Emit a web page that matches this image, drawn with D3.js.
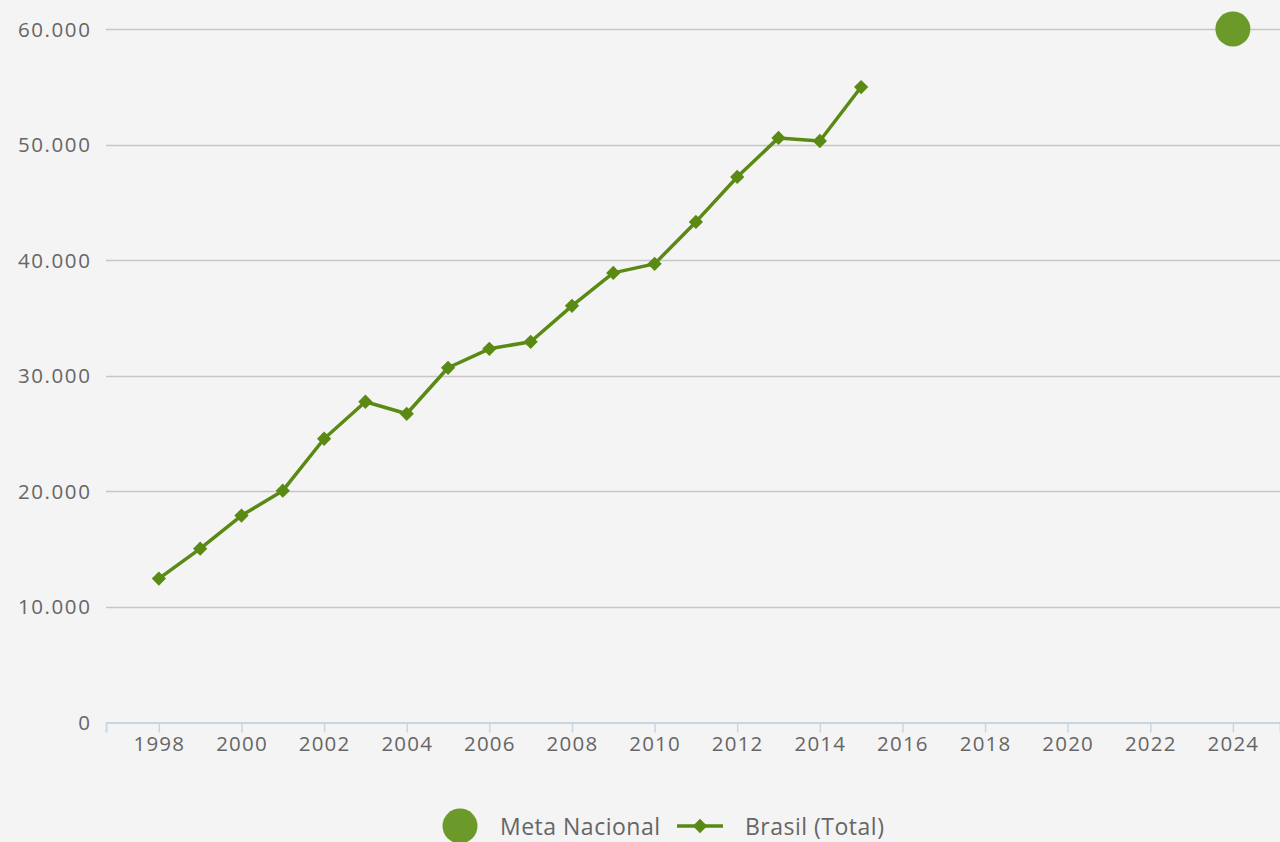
<!DOCTYPE html>
<html>
<head>
<meta charset="utf-8">
<script src="https://cdn.jsdelivr.net/npm/d3@7"></script>
<style>
  html, body { margin: 0; padding: 0; background: #f4f4f4; }
  svg { display: block; }
  text { font-family: "Open Sans", "Noto Sans", sans-serif; fill: #666; }
</style>
</head>
<body>
<svg id="chart" width="1280" height="842"></svg>
<script>
// Brasil (Total) series, one value per year
const years = [1998, 1999, 2000, 2001, 2002, 2003, 2004, 2005, 2006, 2007, 2008,
               2009, 2010, 2011, 2012, 2013, 2014, 2015];
const brasilTotal = [12450, 15040, 17900, 20060, 24550, 27750, 26710, 30690, 32330,
                     32940, 36050, 38900, 39680, 43310, 47200, 50580, 50310, 54980];

// National target
const metaYears = [2024];
const metaValues = [60000];

// Axis ticks
const xTicks = [1998, 2000, 2002, 2004, 2006, 2008, 2010, 2012, 2014, 2016, 2018, 2020, 2022, 2024];
const yTicks = [0, 10000, 20000, 30000, 40000, 50000, 60000];

const lineColor = "#5a8a14";
const metaColor = "#6b9a2a";

const svg = d3.select("#chart");
const plotLeft = 106, plotRight = 1280, plotTop = 29, plotBottom = 722.5;

const x = d3.scaleLinear().domain([1996.72, 2025.14]).range([plotLeft, plotRight]);
const y = d3.scaleLinear().domain([0, 60000]).range([plotBottom, plotTop]);

const fmt = v => v === 0 ? "0" : d3.format(",")(v).replace(/,/g, ".");

// Horizontal grid lines
svg.append("g").selectAll("line")
  .data(yTicks.filter(d => d > 0))
  .join("line")
  .attr("x1", plotLeft).attr("x2", plotRight)
  .attr("y1", d => Math.round(y(d)) + 0.5).attr("y2", d => Math.round(y(d)) + 0.5)
  .attr("stroke", "#c6c6c6").attr("stroke-width", 1.5);

// Y axis labels
svg.append("g").selectAll("text")
  .data(yTicks)
  .join("text")
  .attr("x", 91.5).attr("y", d => y(d) + 7.5)
  .attr("text-anchor", "end")
  .attr("font-size", 20.5)
  .attr("letter-spacing", 1.6)
  .text(fmt);

// X axis line and ticks
const xAxis = svg.append("g").attr("transform", `translate(0,${plotBottom})`);
xAxis.call(d3.axisBottom(x).tickValues(xTicks).tickSize(10).tickFormat(d3.format("d")));
xAxis.select(".domain").attr("stroke", "#c8d6e4").attr("stroke-width", 2);
xAxis.selectAll(".tick line").attr("stroke", "#c8d6e4").attr("stroke-width", 1.5);
xAxis.selectAll(".tick text")
  .attr("y", 28.5).attr("dy", null)
  .attr("fill", "#666").attr("font-size", 20.5)
  .attr("letter-spacing", 1.2)
  .attr("font-family", "\"Open Sans\", \"Noto Sans\", sans-serif");

// Brasil (Total) line
const data = years.map((yr, i) => ({ year: yr, value: brasilTotal[i] }));
svg.append("path")
  .datum(data)
  .attr("fill", "none")
  .attr("stroke", lineColor)
  .attr("stroke-width", 3.5)
  .attr("stroke-linejoin", "round")
  .attr("d", d3.line().x(d => x(d.year)).y(d => y(d.value)));

// Diamond markers
const diamond = d3.symbol().type(d3.symbolDiamond2).size(130);
svg.append("g").selectAll("path")
  .data(data)
  .join("path")
  .attr("transform", d => `translate(${x(d.year)},${y(d.value)})`)
  .attr("d", diamond)
  .attr("fill", lineColor);

// Meta Nacional point
svg.append("g").selectAll("circle")
  .data(metaYears.map((yr, i) => ({ year: yr, value: metaValues[i] })))
  .join("circle")
  .attr("cx", d => x(d.year)).attr("cy", d => y(d.value))
  .attr("r", 17.5)
  .attr("fill", metaColor);

// Legend
const legend = svg.append("g");
legend.append("circle").attr("cx", 460).attr("cy", 826).attr("r", 17.5).attr("fill", metaColor);
legend.append("text").attr("x", 500).attr("y", 835).attr("font-size", 23)
  .attr("letter-spacing", 0.5).text("Meta Nacional");
legend.append("line").attr("x1", 677).attr("x2", 723).attr("y1", 826).attr("y2", 826)
  .attr("stroke", lineColor).attr("stroke-width", 3.5);
legend.append("path").attr("transform", "translate(700,826)").attr("d", diamond).attr("fill", lineColor);
legend.append("text").attr("x", 745).attr("y", 835).attr("font-size", 23)
  .attr("letter-spacing", 0.5).text("Brasil (Total)");
</script>
</body>
</html>
